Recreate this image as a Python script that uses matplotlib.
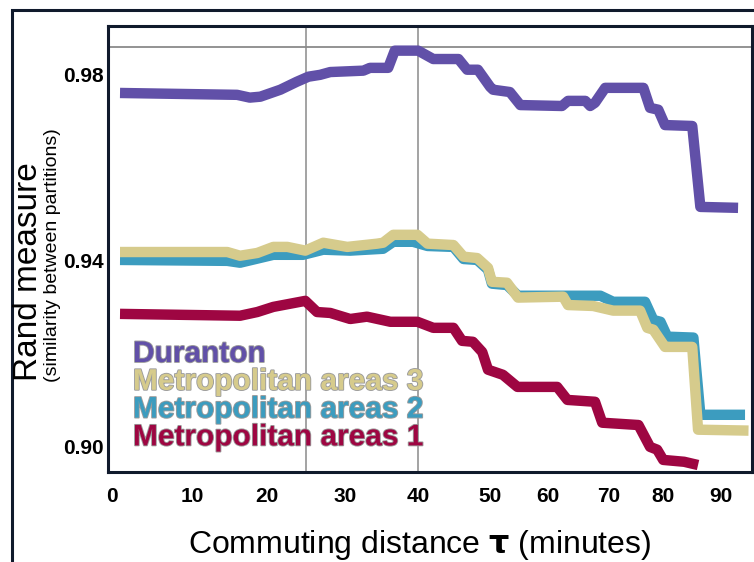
import numpy as np
import matplotlib
matplotlib.use("Agg")
import matplotlib.pyplot as plt
import matplotlib.patheffects as pe
from matplotlib.patches import Rectangle

# commuting distance tau (minutes) and Rand measure per series
tau_duranton = [1, 16, 17.7, 19.1, 21.7, 23.8, 25.3, 26.8, 28.1, 32.5, 33.4, 35.9,
                36.8, 40.0, 42.1, 45.6, 46.8, 48.3, 50, 50.5, 53.4, 55.2, 62.3,
                63.3, 66.2, 67, 67.8, 69.5, 76.4, 77.6, 79.1, 80.3, 85, 86.4, 92.9]
rand_duranton = [0.9761, 0.9757, 0.9751, 0.9753, 0.9768, 0.9785, 0.9796, 0.9800,
                 0.9806, 0.9809, 0.9815, 0.9815, 0.9852, 0.9852, 0.9834, 0.9834,
                 0.9811, 0.9811, 0.9774, 0.9768, 0.9763, 0.9735, 0.9733, 0.9744,
                 0.9744, 0.9733, 0.9740, 0.9772, 0.9772, 0.9729, 0.9725, 0.9692,
                 0.9690, 0.9516, 0.9514]

tau_metro3 = [1, 14.7, 16.4, 18.7, 20.8, 22.6, 24.9, 27.2, 30.3, 34.4, 35.2, 36.6,
              39.9, 41.3, 44.9, 46.3, 48.2, 49.7, 50.3, 52.9, 54.8, 62.5, 63.3,
              67.5, 70.9, 75.8, 77.1, 78.2, 80.3, 85.0, 86.0, 94.7]
rand_metro3 = [0.9419, 0.9419, 0.9411, 0.9417, 0.9430, 0.9430, 0.9422, 0.9439,
               0.9430, 0.9437, 0.9439, 0.9456, 0.9456, 0.9437, 0.9434, 0.9409,
               0.9406, 0.9385, 0.9355, 0.9353, 0.9321, 0.9323, 0.9305, 0.9303,
               0.9293, 0.9293, 0.9256, 0.9252, 0.9215, 0.9215, 0.9037, 0.9035]

tau_metro2 = [1, 14.7, 16.4, 20.8, 24.6, 27.2, 30.7, 35.2, 36.6, 39.3, 41.3, 44.9,
              46.3, 48.2, 49.7, 50.3, 52.9, 54.8, 63.2, 68.7, 70.9, 76.7, 78.2,
              79.5, 80.7, 85.2, 86.4, 94.1]
rand_metro2 = [0.9402, 0.9400, 0.9396, 0.9413, 0.9413, 0.9424, 0.9422, 0.9426,
               0.9441, 0.9441, 0.9432, 0.9430, 0.9404, 0.9402, 0.9381, 0.9351,
               0.9348, 0.9325, 0.9325, 0.9325, 0.9312, 0.9312, 0.9273, 0.9269,
               0.9237, 0.9235, 0.9069, 0.9069]

tau_metro1 = [1, 16.4, 18.7, 20.8, 24.9, 26.4, 28.1, 30.7, 33.0, 36.2, 39.9, 42.1,
              44.9, 46.1, 47.6, 48.9, 49.7, 52.2, 54.7, 61.5, 63.2, 67.8, 69.0,
              75.5, 77.6, 78.9, 80.0, 83.6, 86.0]
rand_metro1 = [0.9286, 0.9282, 0.9290, 0.9301, 0.9314, 0.9290, 0.9288, 0.9275,
               0.9280, 0.9269, 0.9269, 0.9256, 0.9256, 0.9228, 0.9226, 0.9204,
               0.9166, 0.9155, 0.9129, 0.9129, 0.9101, 0.9097, 0.9052, 0.9047,
               0.9000, 0.8994, 0.8972, 0.8968, 0.8961]

series_names = ["Duranton", "Metropolitan areas 3", "Metropolitan areas 2",
                "Metropolitan areas 1"]
series_colors = ["#6150a8", "#d6cb8c", "#3c9cbf", "#9e0642"]
x_ticks = [0, 10, 20, 30, 40, 50, 60, 70, 80, 90]
y_ticks = [0.90, 0.94, 0.98]
marked_tau = [25, 40]
ref_level = 0.986

# the original x axis is warped: ticks are not evenly spaced
warp_tau = [-10, 0, 10, 20, 30, 40, 50, 60, 70, 80, 90, 100]
warp_pos = [32, 112, 192, 267, 345, 418, 490, 548, 608, 663, 721, 779]


def fwd(t):
    return np.interp(t, warp_tau, warp_pos)


def inv(p):
    return np.interp(p, warp_pos, warp_tau)


plt.rcParams["font.family"] = ["Liberation Sans", "DejaVu Sans"]

fig = plt.figure(figsize=(7.54, 5.62), dpi=100)
ax = fig.add_axes([108 / 754, 1 - 472 / 562, 644 / 754, 446 / 562])

frame = Rectangle((12 / 754, -0.05), 1.0, 1 - 10 / 562 + 0.05,
                  transform=fig.transFigure, fill=False, lw=2.2,
                  edgecolor="#101a2c", zorder=-5)
fig.patches.append(frame)

ax.set_xscale("function", functions=(fwd, inv))
ax.set_xlim(-0.5, 95.3)
ax.set_ylim(0.8946, 0.9905)

for t in marked_tau:
    ax.axvline(t, color="#8a8a8a", lw=1.1, zorder=1)
ax.axhline(ref_level, color="#8a8a8a", lw=1.3, zorder=1)

lw = 7.5
ax.plot(tau_duranton, rand_duranton, color=series_colors[0], lw=lw, zorder=3,
        solid_capstyle="butt")
ax.plot(tau_metro2, rand_metro2, color=series_colors[2], lw=lw, zorder=3,
        solid_capstyle="butt")
ax.plot(tau_metro3, rand_metro3, color=series_colors[1], lw=lw, zorder=4,
        solid_capstyle="butt")
ax.plot(tau_metro1, rand_metro1, color=series_colors[3], lw=lw, zorder=5,
        solid_capstyle="butt")

# hand-made legend, coloured words
outline = [pe.withStroke(linewidth=1.3, foreground="#9c9c9c")]
for i, (name, col) in enumerate(zip(series_names, series_colors)):
    ax.text(25 / 644, (472 - 354 - i * 27.8) / 446, name, transform=ax.transAxes,
            color=col, fontsize=21.5, fontweight="bold", va="center", ha="left",
            path_effects=outline, zorder=6, linespacing=1.0)

ax.set_xticks(x_ticks)
ax.set_xticklabels([str(v) for v in x_ticks])
ax.set_yticks(y_ticks)
ax.set_yticklabels(["%.2f" % v for v in y_ticks])
ax.tick_params(axis="x", length=0, pad=11, labelsize=15)
ax.tick_params(axis="y", length=0, pad=3, labelsize=15)
for lab in ax.get_xticklabels() + ax.get_yticklabels():
    lab.set_fontweight("bold")

for sp in ax.spines.values():
    sp.set_linewidth(2.2)
    sp.set_color("#101a2c")

fig.text(420 / 754, 1 - 545 / 562, "Commuting distance $\\mathbf{\\tau}$ (minutes)",
         ha="center", va="center", fontsize=23)
fig.text(29 / 754, 1 - 272 / 562, "Rand measure", rotation=90, ha="center",
         va="center", fontsize=24)
fig.text(53 / 754, 1 - 255 / 562, "(similarity between partitions)", rotation=90,
         ha="center", va="center", fontsize=14)

fig.savefig("out.png", dpi=100)
